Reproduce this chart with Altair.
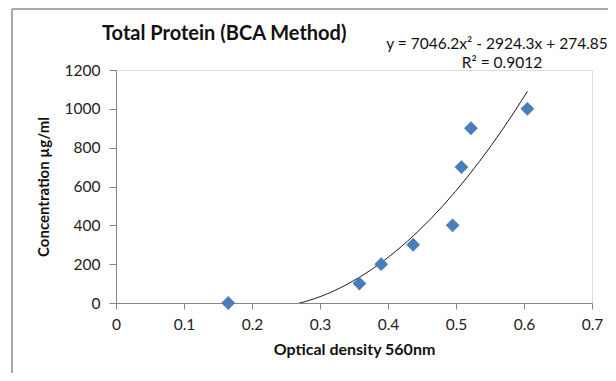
import altair as alt
import pandas as pd

# Data
od = [0.165, 0.358, 0.390, 0.437, 0.495, 0.508, 0.522, 0.605]
conc = [0, 100, 200, 300, 400, 700, 900, 1000]
x_ticks = [0, 0.1, 0.2, 0.3, 0.4, 0.5, 0.6, 0.7]
y_ticks = [0, 200, 400, 600, 800, 1000, 1200]
equation = "y = 7046.2x\u00b2 - 2924.3x + 274.85"
r2_text = "R\u00b2 = 0.9012"
title_text = "Total Protein (BCA Method)"
x_title = "Optical density 560nm"
y_title = "Concentration \u00b5g/ml"

df = pd.DataFrame({"od": od, "conc": conc})
one = pd.DataFrame({"k": [0]})

FONT = "Lato"
W, H = 476, 233

xscale = alt.Scale(domain=[0, 0.7], nice=False, zero=False)
yscale = alt.Scale(domain=[0, 1200], nice=False)

xaxis = alt.Axis(values=x_ticks, title=x_title, grid=False, format="~g",
                 labelOverlap=False, labelFlush=False,
                 domainColor="#868686", tickColor="#868686", tickSize=6,
                 labelFont=FONT, labelFontSize=15.5, labelColor="#222222",
                 labelPadding=8, titleFont=FONT, titleFontSize=16,
                 titleFontWeight="bold", titleColor="#111111", titlePadding=9)
yaxis = alt.Axis(values=y_ticks, title=y_title, grid=False, format="d",
                 labelOverlap=False, labelFlush=False,
                 domainColor="#868686", tickColor="#868686", tickSize=7,
                 labelFont=FONT, labelFontSize=15.5, labelColor="#222222",
                 labelPadding=9, titleFont=FONT, titleFontSize=15,
                 titleFontWeight="bold", titleColor="#111111", titlePadding=13)

base = alt.Chart(df)

trend = base.transform_regression(
    "od", "conc", method="poly", order=2
).mark_line(color="#1a1a1a", strokeWidth=1, clip=True).encode(
    x=alt.X("od:Q", scale=xscale, axis=xaxis),
    y=alt.Y("conc:Q", scale=yscale, axis=yaxis),
)

points = base.mark_point(shape="diamond", filled=True, size=190,
                         color="#4A7EBB", opacity=1).encode(
    x=alt.X("od:Q", scale=xscale, axis=xaxis),
    y=alt.Y("conc:Q", scale=yscale, axis=yaxis),
)

def label(txt, x, y, size, weight, align):
    return alt.Chart(one).mark_text(text=txt, font=FONT, fontSize=size,
                                    fontWeight=weight, color="#111111",
                                    align=align, baseline="alphabetic").encode(
        x=alt.value(x), y=alt.value(y))

title = label(title_text, -14, -30, 20, "bold", "left")
eq1 = label(equation, 381, -21, 15.5, "normal", "center")
eq2 = label(r2_text, 386, -2, 15.5, "normal", "center")

frame_left = alt.Chart(one).mark_rule(color="#8c8c8c", strokeWidth=1.5).encode(
    x=alt.value(-104), y=alt.value(-61), y2=alt.value(400))
frame_top = alt.Chart(one).mark_rule(color="#8c8c8c", strokeWidth=1.5).encode(
    x=alt.value(-104), x2=alt.value(600), y=alt.value(-61))

chart = alt.layer(trend, points, frame_left, frame_top, title, eq1, eq2).properties(
    width=W, height=H,
    autosize=alt.AutoSizeParams(type="none"),
    padding={"left": 108, "top": 62, "right": 16, "bottom": 70},
).configure_view(stroke=None).configure(background="white")

chart.save("out.html", embed_options={"renderer": "svg", "actions": False})
